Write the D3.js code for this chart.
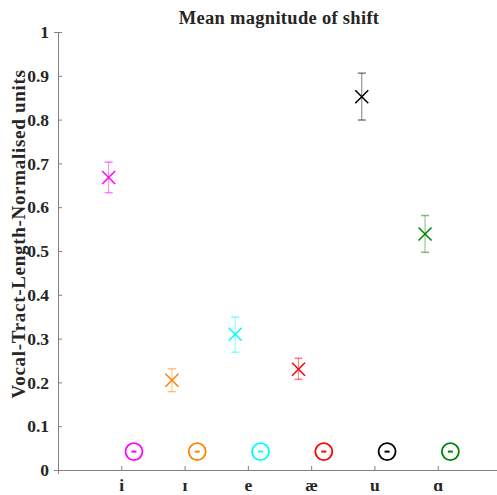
<!DOCTYPE html>
<html>
<head>
<meta charset="utf-8">
<script src="https://cdn.jsdelivr.net/npm/d3@7/dist/d3.min.js"></script>
<style>
  html, body { margin: 0; padding: 0; background: #fff; }
  svg { display: block; }
  text { font-family: "Liberation Serif", "DejaVu Serif", serif; font-weight: bold; fill: #262626; }
</style>
</head>
<body>
<svg id="chart" width="497" height="495"></svg>
<script>
// Vowel categories and their mean shift with error bounds
const vowels = ["i", "ɪ", "e", "æ", "u", "ɑ"];
const means  = [0.668, 0.205, 0.310, 0.230, 0.852, 0.539];
const lower  = [0.633, 0.179, 0.269, 0.207, 0.799, 0.497];
const upper  = [0.703, 0.231, 0.349, 0.255, 0.906, 0.581];
const colors = ["#ff00ff", "#ff8000", "#00ffff", "#ff0000", "#000000", "#008000"];
const yTicks = [0, 0.1, 0.2, 0.3, 0.4, 0.5, 0.6, 0.7, 0.8, 0.9, 1];
const yTickLabels = ["0", "0.1", "0.2", "0.3", "0.4", "0.5", "0.6", "0.7", "0.8", "0.9", "1"];
const baselineMark = 0.042;

const svg = d3.select("#chart");
const margin = { left: 58, top: 32, right: -4, bottom: 25 };
const W = 497, H = 495;

const x = d3.scaleLinear().domain([0, 7]).range([margin.left, W - margin.right]);
const y = d3.scaleLinear().domain([0, 1]).range([H - margin.bottom, margin.top]);

// axes
const axisColor = "#808080";
const yAxis = svg.append("g").attr("transform", `translate(${margin.left},0)`)
  .call(d3.axisLeft(y).tickValues(yTicks).tickFormat((d, i) => yTickLabels[i]).tickSize(4).tickPadding(5));
const xAxis = svg.append("g").attr("transform", `translate(0,${y(0)})`)
  .call(d3.axisBottom(x).tickValues(d3.range(1, 7)).tickFormat(d => vowels[d - 1]).tickSize(4).tickPadding(6));
[yAxis, xAxis].forEach(g => {
  g.select(".domain").attr("stroke", axisColor).attr("stroke-width", 1);
  g.selectAll(".tick line").attr("stroke", axisColor);
  g.selectAll(".tick text").style("font-size", "17.5px").attr("fill", "#262626");
});
// ticks point inward
yAxis.selectAll(".tick line").attr("x2", 4);
xAxis.selectAll(".tick line").attr("y2", -4);
xAxis.selectAll(".tick text").attr("y", 10).attr("dy", "0.6em");

const off = 0.2;
const plot = svg.append("g");
const cap = 4, half = 6.5;

vowels.forEach((v, i) => {
  const cx = x(i + 1 - off);
  const g = plot.append("g");
  // error bar
  g.append("line").attr("x1", cx).attr("x2", cx).attr("y1", y(lower[i])).attr("y2", y(upper[i]))
    .attr("stroke", colors[i]).attr("stroke-opacity", 0.5).attr("stroke-width", 1);
  [lower[i], upper[i]].forEach(b => {
    g.append("line").attr("x1", cx - cap).attr("x2", cx + cap).attr("y1", y(b)).attr("y2", y(b))
      .attr("stroke", colors[i]).attr("stroke-opacity", 0.5).attr("stroke-width", 1.5);
  });
  // cross marker at the mean
  const cy = y(means[i]);
  g.append("path")
    .attr("d", `M${cx - half},${cy - half}L${cx + half},${cy + half}M${cx - half},${cy + half}L${cx + half},${cy - half}`)
    .attr("stroke", colors[i]).attr("stroke-width", 1.5).attr("fill", "none");

  // circled minus near the baseline
  const ox = x(i + 1 + off), oy = y(baselineMark);
  g.append("circle").attr("cx", ox).attr("cy", oy).attr("r", 8.5)
    .attr("fill", "none").attr("stroke", colors[i]).attr("stroke-width", 1.8);
  g.append("line").attr("x1", ox - 2.5).attr("x2", ox + 2.5).attr("y1", oy).attr("y2", oy)
    .attr("stroke", colors[i]).attr("stroke-width", 2);
});

// title
svg.append("text").attr("x", 279).attr("y", 24).attr("text-anchor", "middle")
  .style("font-size", "18.5px").style("letter-spacing", "0.3px").attr("fill", "#000")
  .text("Mean magnitude of shift");

// y label
svg.append("text").attr("transform", `translate(25,234) rotate(-90)`)
  .attr("text-anchor", "middle").style("font-size", "19px").style("letter-spacing", "0.7px")
  .attr("fill", "#262626")
  .text("Vocal-Tract-Length-Normalised units");
</script>
</body>
</html>
